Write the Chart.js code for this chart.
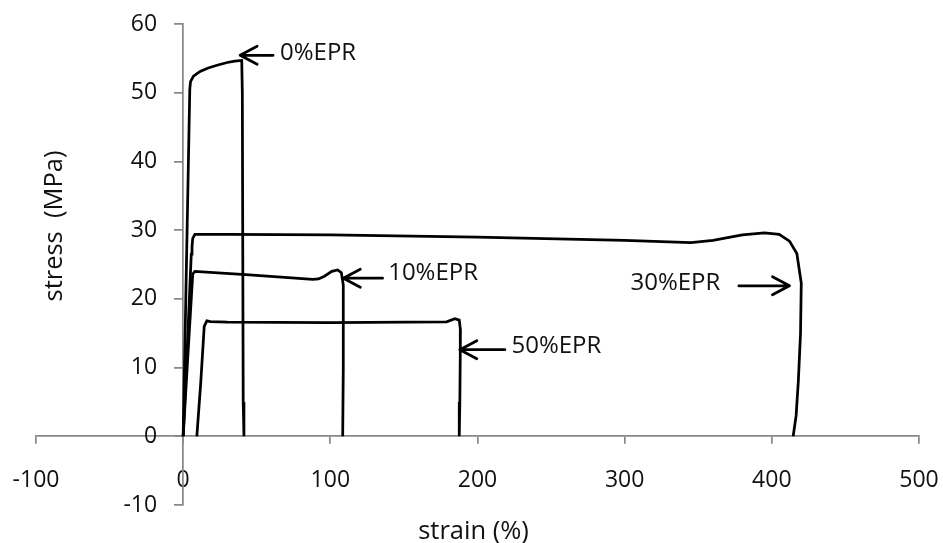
<!DOCTYPE html>
<html>
<head>
<meta charset="utf-8">
<script src="https://cdn.jsdelivr.net/npm/chart.js@4.4.1/dist/chart.umd.min.js"></script>
<style>
  body { margin: 0; background: #fff; }
  #chart { display: block; }
</style>
</head>
<body>
<canvas id="chart" width="943" height="543"></canvas>
<script>
// stress-strain curves
const strain0 = [0, 4.5, 5, 7, 11.5, 17, 23, 30, 35, 39.8, 40.2, 40.8, 41.3]
const stress0 = [0, 50.5, 51.6, 52.4, 53.1, 53.6, 54.0, 54.4, 54.6, 54.7, 50, 5, 0]

const strain10 = [0, 3, 6.5, 8, 45, 88, 92, 96, 101, 105, 107.5, 108.8, 108.8, 108.4]
const stress10 = [0, 11, 23.6, 24.0, 23.5, 22.85, 22.9, 23.3, 24.0, 24.2, 23.8, 22, 10, 0]

const strain30 = [0, 3, 5.5, 6, 6.5, 8, 30, 100, 200, 300, 345, 360, 380, 395, 405, 412, 417, 420, 419.5, 418, 416.5, 414.5]
const stress30 = [0, 14, 26.5, 27.6, 28.8, 29.4, 29.4, 29.3, 29.0, 28.5, 28.2, 28.5, 29.3, 29.6, 29.4, 28.4, 26.6, 22.3, 15, 8, 3, 0]

const strain50 = [9.3, 12, 14.3, 16.1, 18.5, 30, 100, 179, 184.6, 187.6, 188.4, 188.3, 188, 187.6]
const stress50 = [0, 8, 16.0, 16.8, 16.7, 16.6, 16.55, 16.65, 17.1, 16.9, 15.5, 12, 5, 0]

// labels with arrows
const annoText = ['0%EPR', '10%EPR', '50%EPR', '30%EPR']
const arrowTipX = [38.7, 108.8, 188, 412]
const arrowTailX = [61.1, 135.5, 218.6, 377.6]
const arrowY = [55.45, 23.0, 12.6, 21.9]
const textX = [65.8, 139.3, 223.1, 365]
const textY = [55.8, 23.7, 13.05, 22.3]

const xTitle = 'strain (%)'
const yTitle = 'stress  (MPa)'

const inkColor = '#111'
const axisColor = '#898989'
const fontFamily = "'Open Sans', sans-serif"

const toPoints = (xs, ys) => xs.map((x, i) => ({x: x, y: ys[i]}))

const curve = (xs, ys) => ({
    data: toPoints(xs, ys),
    showLine: true,
    borderColor: '#000',
    borderWidth: 2.75,
    pointRadius: 0,
    tension: 0,
    fill: false
})

// y tick labels (left of the crossing axis), arrows, labels and axis titles
const annotations = {
    id: 'annotations',
    afterDatasetsDraw(chart) {
        const {ctx, scales: {x, y}, chartArea} = chart
        ctx.save()

        const yAxisX = x.getPixelForValue(0)
        ctx.fillStyle = inkColor
        ctx.font = `23px ${fontFamily}`
        ctx.textAlign = 'right'
        ctx.textBaseline = 'middle'
        y.ticks.forEach(t => {
            ctx.fillText(String(t.value), yAxisX - 26, y.getPixelForValue(t.value))
        })

        ctx.strokeStyle = '#000'
        ctx.lineWidth = 2.75
        ctx.lineCap = 'round'
        ctx.lineJoin = 'round'
        annoText.forEach((t, i) => {
            const tipX = x.getPixelForValue(arrowTipX[i])
            const tailX = x.getPixelForValue(arrowTailX[i])
            const ay = y.getPixelForValue(arrowY[i])
            const dir = tailX > tipX ? 1 : -1
            ctx.beginPath()
            ctx.moveTo(tailX, ay)
            ctx.lineTo(tipX, ay)
            ctx.moveTo(tipX + dir * 17, ay - 9)
            ctx.lineTo(tipX, ay)
            ctx.lineTo(tipX + dir * 17, ay + 9)
            ctx.stroke()

            ctx.font = `24px ${fontFamily}`
            ctx.textBaseline = 'middle'
            ctx.textAlign = dir > 0 ? 'left' : 'right'
            ctx.fillText(t, x.getPixelForValue(textX[i]), y.getPixelForValue(textY[i]))
        })

        ctx.font = `25.5px ${fontFamily}`
        ctx.textAlign = 'center'
        ctx.textBaseline = 'middle'
        ctx.fillText(xTitle, (chartArea.left + chartArea.right) / 2 - 4, chart.height - 11)
        ctx.translate(55, 226)
        ctx.rotate(-Math.PI / 2)
        ctx.fillText(yTitle, 0, 0)
        ctx.restore()
    }
}

const ctx = document.getElementById('chart').getContext('2d')
const myChart = new Chart(ctx, {
    type: 'scatter',
    data: {
        datasets: [
            curve(strain0, stress0),
            curve(strain10, stress10),
            curve(strain30, stress30),
            curve(strain50, stress50)
        ]
    },
    options: {
        responsive: false,
        animation: false,
        devicePixelRatio: 1,
        layout: {
            padding: {left: 36, right: 24, top: 24, bottom: 38}
        },
        plugins: {
            legend: {display: false},
            tooltip: {enabled: false}
        },
        scales: {
            x: {
                type: 'linear',
                min: -100,
                max: 500,
                position: {y: 0},
                afterFit: (scale) => {
                    // keep the plot area exactly where the layout padding puts it
                    scale.paddingLeft = 0
                    scale.paddingRight = 0
                },
                ticks: {
                    stepSize: 100,
                    color: inkColor,
                    padding: 23,
                    maxRotation: 0,
                    font: {family: fontFamily, size: 23}
                },
                grid: {
                    drawOnChartArea: false,
                    drawTicks: true,
                    tickLength: 7,
                    color: axisColor,
                    lineWidth: 1.75
                },
                border: {color: axisColor, width: 1.75}
            },
            y: {
                type: 'linear',
                min: -10,
                max: 60,
                position: {x: 0},
                ticks: {
                    display: false,
                    stepSize: 10
                },
                grid: {
                    drawOnChartArea: false,
                    drawTicks: true,
                    tickLength: 8,
                    color: axisColor,
                    lineWidth: 1.75
                },
                border: {color: axisColor, width: 1.75}
            }
        }
    },
    plugins: [annotations]
})
</script>
</body>
</html>
